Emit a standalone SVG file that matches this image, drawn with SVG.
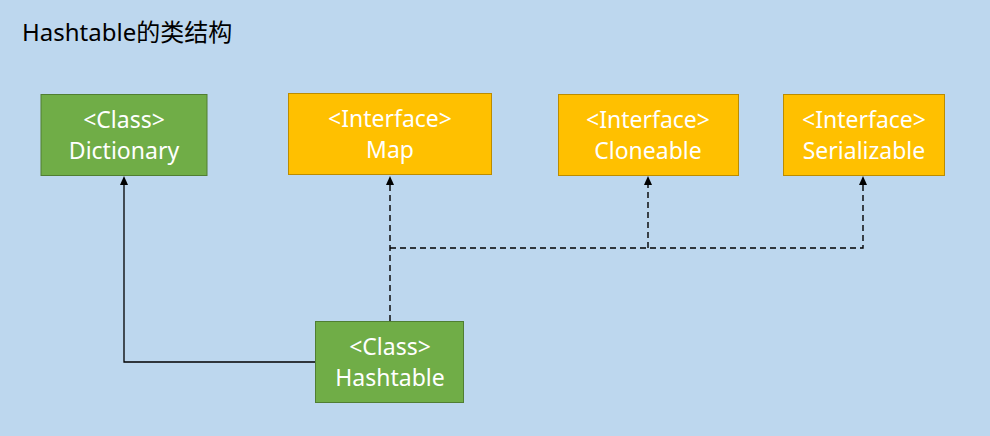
<svg xmlns="http://www.w3.org/2000/svg" width="990" height="436" viewBox="0 0 990 436">
<style>
.cls rect{fill:#70AD47;stroke:#507E32;stroke-width:1}
.itf rect{fill:#FFC000;stroke:#BC8C00;stroke-width:1}
.lbl{font-family:"Noto Sans","Noto Sans CJK SC",sans-serif;font-size:23px;fill:#FFFFFF;text-anchor:middle}
.title{font-family:"Noto Sans","Noto Sans CJK SC",sans-serif;font-size:24px;fill:#000000}
.solid{fill:none;stroke:#000;stroke-width:1.3}
.dash{fill:none;stroke:#000;stroke-width:1.4;stroke-dasharray:6,4}
</style>
<rect width="990" height="436" fill="#BDD7EE"/>
<text class="title" x="22" y="41">Hashtable的类结构</text>
<g id="connectors">
<polyline class="solid" points="315,362 124,362 124,185"/>
<path d="M124,176 L128,185 L120,185 Z" fill="#000"/>
<polyline class="dash" points="390,321 390,185"/>
<path d="M390,176 L394,185 L386,185 Z" fill="#000"/>
<polyline class="dash" points="390,248 863,248 863,185"/>
<polyline class="dash" points="648,248 648,185"/>
<path d="M648,176 L652,185 L644,185 Z" fill="#000"/>
<path d="M863,176 L867,185 L859,185 Z" fill="#000"/>
</g>
<g id="dictionary" class="cls">
<rect x="41" y="94.5" width="166" height="81"/>
<text class="lbl" x="124" y="128">&lt;Class&gt;</text>
<text class="lbl" x="124" y="159">Dictionary</text>
</g>
<g id="map" class="itf">
<rect x="288.5" y="93.5" width="203" height="81"/>
<text class="lbl" x="390" y="127">&lt;Interface&gt;</text>
<text class="lbl" x="390" y="158">Map</text>
</g>
<g id="cloneable" class="itf">
<rect x="558.5" y="94.5" width="180" height="81"/>
<text class="lbl" x="648" y="128">&lt;Interface&gt;</text>
<text class="lbl" x="648" y="159">Cloneable</text>
</g>
<g id="serializable" class="itf">
<rect x="783.5" y="94.5" width="161" height="81"/>
<text class="lbl" x="864" y="128">&lt;Interface&gt;</text>
<text class="lbl" x="864" y="159">Serializable</text>
</g>
<g id="hashtable" class="cls">
<rect x="315.5" y="321.5" width="148" height="81"/>
<text class="lbl" x="390" y="355">&lt;Class&gt;</text>
<text class="lbl" x="390" y="386">Hashtable</text>
</g>
</svg>
